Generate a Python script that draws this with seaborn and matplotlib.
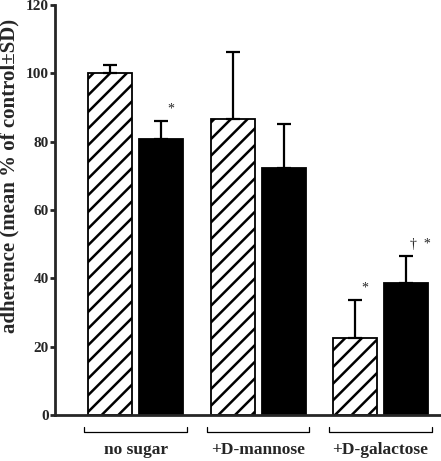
import matplotlib
matplotlib.use('Agg')
import matplotlib.pyplot as plt
import numpy as np
import pandas as pd
import seaborn as sns

groups = ['no sugar', '+D-mannose', '+D-galactose']
conditions = ['hatched', 'solid']
means_hatched = [100, 86.7, 22.5]
means_solid = [80.7, 72.2, 38.6]
sd_hatched = [2.5, 19.5, 11.2]
sd_solid = [5.5, 12.9, 8.0]
marks_hatched = ['', '', '*']
marks_solid = ['*', '', '\u2020  *']

df = pd.DataFrame({
    'group': groups * 2,
    'condition': [conditions[0]] * 3 + [conditions[1]] * 3,
    'mean': means_hatched + means_solid,
})

sns.set_style('ticks')
plt.rcParams['font.family'] = ['Liberation Serif', 'DejaVu Serif']
plt.rcParams['hatch.linewidth'] = 1.8

fig = plt.figure(figsize=(4.41, 4.61), dpi=100)
ax = fig.add_axes([0.125, 0.1, 0.875, 0.889])

sns.barplot(data=df, x='group', y='mean', hue='condition', order=groups,
            hue_order=conditions, palette=['white', 'black'], width=0.833,
            gap=0.136, edgecolor='black', linewidth=1.3, legend=False, ax=ax)

sds = [sd_hatched, sd_solid]
marks = [marks_hatched, marks_solid]
means = [means_hatched, means_solid]
bar_sets = list(ax.containers)
for k, cont in enumerate(bar_sets):
    xs = []
    for bar in cont:
        if k == 0:
            bar.set_hatch('//')
        xs.append(bar.get_x() + bar.get_width() / 2)
    ax.errorbar(xs, means[k], yerr=[np.zeros(3), sds[k]], fmt='none',
                ecolor='black', elinewidth=1.6, capsize=5, capthick=1.6, zorder=1)
    for i, m in enumerate(marks[k]):
        if m:
            dx = 0.12 if len(m) > 1 else 0.08
            ax.text(xs[i] + dx, means[k][i] + sds[k][i] + 1.5, m,
                    ha='center', va='bottom', fontsize=10)

ax.set_ylim(0, 120)
ax.set_xlim(-0.657, 2.494)
ax.set_yticks(range(0, 121, 20))
ax.set_xticks([])
ax.set_xlabel('')
ax.set_ylabel('adherence (mean % of control\u00b1SD)', fontsize=15,
              fontweight='bold')
ax.yaxis.set_label_coords(-0.093, 0.583)
for lab in ax.get_yticklabels():
    lab.set_fontweight('bold')
    lab.set_fontsize(11)
ax.tick_params(axis='y', direction='out', length=3.6, width=2, pad=1)
sns.despine(ax=ax)
ax.spines['left'].set_linewidth(2)
ax.spines['bottom'].set_linewidth(2)

# group brackets under the axis
trans = ax.get_xaxis_transform()
for i, g in enumerate(groups):
    ax.plot([i - 0.42, i - 0.42, i + 0.42, i + 0.42], [-0.029, -0.041, -0.041, -0.029],
            color='black', lw=0.9, transform=trans, clip_on=False)
    ax.text(i, -0.085, g, transform=trans, ha='center', va='center',
            fontsize=12.5, fontweight='bold')

fig.savefig('out.png', dpi=100)
